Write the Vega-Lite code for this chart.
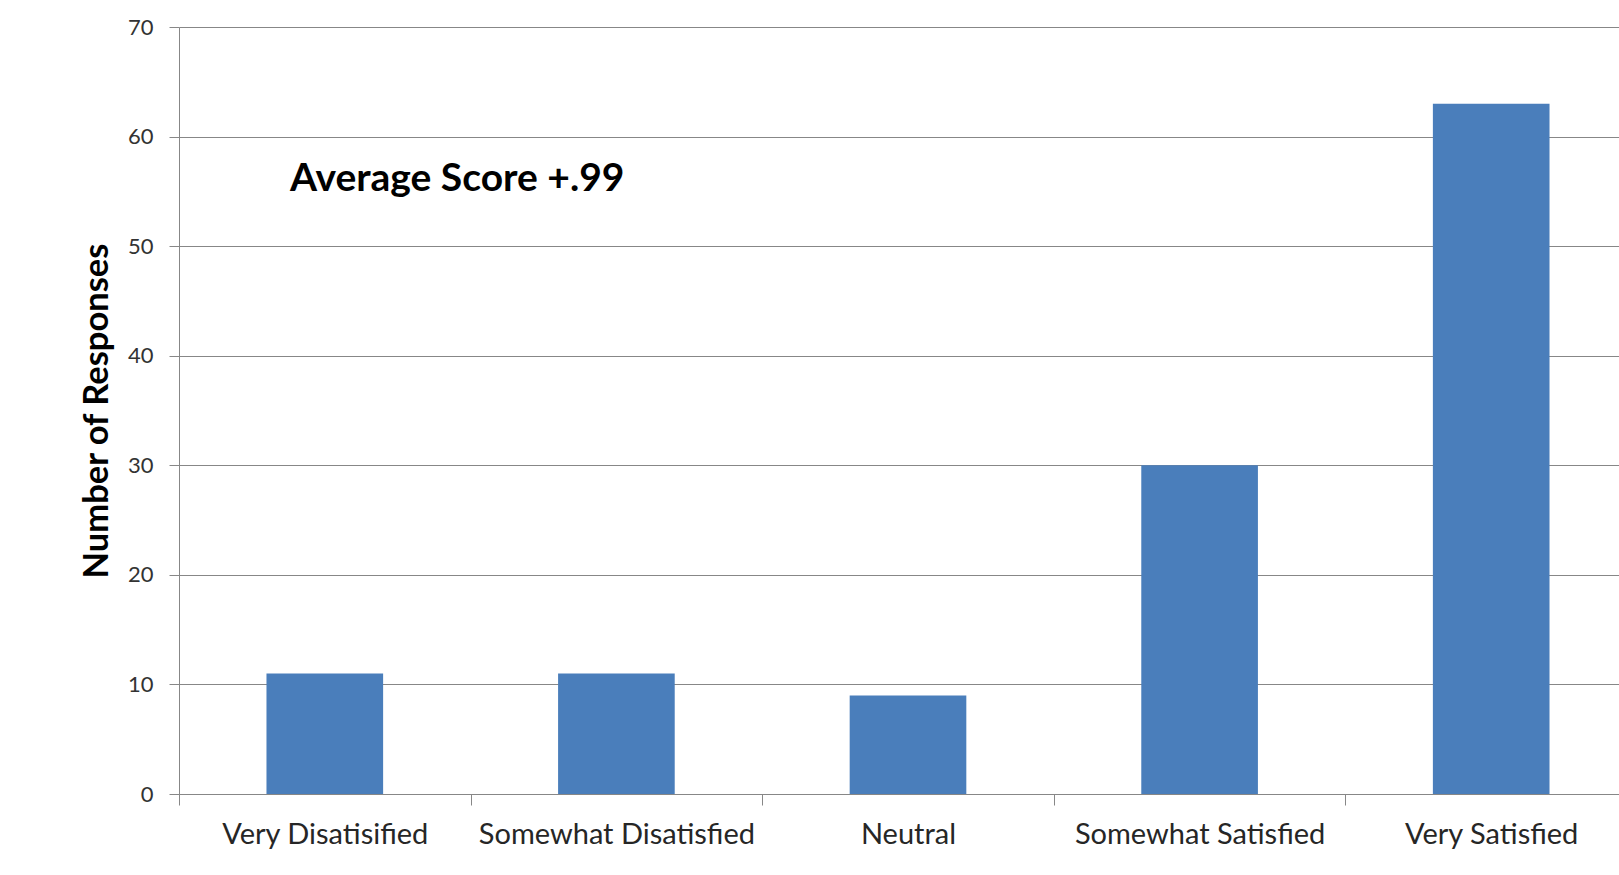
{
  "$schema": "https://vega.github.io/schema/vega-lite/v6.json",
  "autosize": {"type": "none"},
  "width": 1440,
  "height": 767,
  "padding": {"left": 179, "top": 27, "right": 0, "bottom": 81},
  "background": "white",
  "config": {
    "view": {"stroke": null},
    "font": "Lato"
  },
  "datasets": {
    "responses": [
      {"category": "Very Disatisified", "count": 11},
      {"category": "Somewhat Disatisfied", "count": 11},
      {"category": "Neutral", "count": 9},
      {"category": "Somewhat Satisfied", "count": 30},
      {"category": "Very Satisfied", "count": 63}
    ],
    "notes": [
      {"category": "Very Disatisified", "count": 55, "note": "Average Score +.99"}
    ]
  },
  "encoding": {
    "x": {
      "field": "category",
      "type": "nominal",
      "sort": null,
      "scale": {"range": [0, 1458], "paddingInner": 0, "paddingOuter": 0},
      "axis": {
        "title": null,
        "labelAngle": 0,
        "labelLimit": 0,
        "tickBand": "extent",
        "tickSize": 11,
        "tickColor": "#878787",
        "domainColor": "#878787",
        "labelFont": "Lato",
        "labelFontSize": 29,
        "labelColor": "#262626",
        "labelPadding": 15,
        "grid": false
      }
    },
    "y": {
      "field": "count",
      "type": "quantitative",
      "scale": {"domain": [0, 70], "nice": false},
      "axis": {
        "values": [0, 10, 20, 30, 40, 50, 60, 70],
        "title": "Number of Responses",
        "titleFont": "Lato",
        "titleFontSize": 34.5,
        "titleFontWeight": "bold",
        "titleColor": "#000000",
        "titlePadding": 13,
        "tickSize": 10,
        "tickColor": "#878787",
        "domainColor": "#878787",
        "gridColor": "#878787",
        "gridOpacity": 1,
        "labelFont": "Lato",
        "labelFontSize": 22,
        "labelColor": "#333333",
        "labelPadding": 16
      }
    }
  },
  "layer": [
    {
      "data": {"name": "responses"},
      "mark": {"type": "bar", "color": "#4A7EBB", "width": {"band": 0.4}}
    },
    {
      "data": {"name": "notes"},
      "mark": {
        "type": "text",
        "align": "left",
        "baseline": "alphabetic",
        "dx": 111,
        "font": "Lato",
        "fontSize": 39,
        "fontWeight": "bold",
        "color": "#000000"
      },
      "encoding": {
        "x": {"field": "category", "type": "nominal", "sort": null, "bandPosition": 0},
        "text": {"field": "note"}
      }
    }
  ]
}
